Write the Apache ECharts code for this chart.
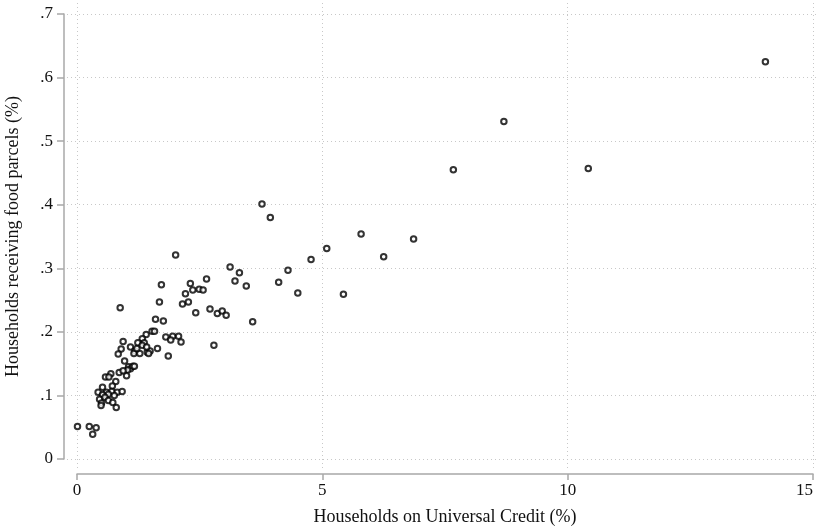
<!DOCTYPE html>
<html>
<head>
<meta charset="utf-8">
<script src="https://cdn.jsdelivr.net/npm/echarts@6/dist/echarts.min.js"></script>
<style>
html,body{margin:0;padding:0;background:#fff;}
#chart{width:818px;height:529px;}
</style>
</head>
<body>
<div id="chart"></div>
<script>
// Households on Universal Credit (%)
const ucShare = [
  14.03, 8.70, 10.42, 7.67, 3.77, 3.94, 5.79, 6.86, 5.09, 6.25,
  4.77, 4.30, 4.11, 4.50, 5.43, 3.58, 2.01, 3.12, 3.31, 3.22,
  3.45, 2.64, 1.72, 2.31, 2.36, 2.49, 2.57, 2.21, 1.68, 2.15,
  2.27, 2.42, 2.71, 2.86, 2.96, 3.04, 2.79, 0.88, 1.60, 1.76,
  1.41, 1.53, 1.58, 1.81, 1.95, 2.07, 1.91, 2.12, 1.86,
  0.94, 1.33, 1.37, 1.24, 0.90, 0.84, 1.09, 1.18, 1.16, 1.28,
  1.22, 1.43, 1.49, 1.46, 1.64, 1.33, 1.42, 0.97, 1.05, 1.09,
  1.14, 1.03, 1.17, 0.86, 0.69, 1.01, 0.58, 0.65, 0.94, 0.79,
  0.52, 0.72, 0.43, 0.60, 0.71, 0.82, 0.92, 0.52, 0.64, 0.76,
  0.46, 0.57, 0.64, 0.50, 0.73, 0.49, 0.80, 0.01, 0.25, 0.39, 0.32
];
// Households receiving food parcels (%)
const parcelShare = [
  0.625, 0.531, 0.457, 0.455, 0.401, 0.380, 0.354, 0.346, 0.331, 0.318,
  0.314, 0.297, 0.278, 0.261, 0.259, 0.216, 0.321, 0.302, 0.293, 0.280,
  0.272, 0.283, 0.274, 0.276, 0.266, 0.267, 0.266, 0.260, 0.247, 0.244,
  0.247, 0.230, 0.236, 0.229, 0.233, 0.226, 0.179, 0.238, 0.220, 0.217,
  0.196, 0.201, 0.201, 0.192, 0.193, 0.193, 0.187, 0.184, 0.162,
  0.185, 0.189, 0.183, 0.183, 0.173, 0.165, 0.176, 0.170, 0.166, 0.166,
  0.174, 0.168, 0.170, 0.166, 0.174, 0.179, 0.176, 0.154, 0.145, 0.142,
  0.146, 0.140, 0.146, 0.136, 0.134, 0.131, 0.129, 0.129, 0.139, 0.122,
  0.113, 0.115, 0.105, 0.105, 0.106, 0.105, 0.106, 0.101, 0.102, 0.100,
  0.094, 0.097, 0.092, 0.088, 0.089, 0.084, 0.081, 0.051, 0.051, 0.049, 0.039
];
const xTicks = [0, 5, 10, 15];
const yTicks = [0, 0.1, 0.2, 0.3, 0.4, 0.5, 0.6, 0.7];
const xTitle = 'Households on Universal Credit (%)';
const yTitle = 'Households receiving food parcels (%)';

const points = ucShare.map((x, i) => [x, parcelShare[i]]);

// layout
const W = 818, H = 529;
const g = {left: 77, right: 5, top: 14, bottom: 70};
const pad = {left: 10, right: 5, top: 11, bottom: 9};
const xMin = xTicks[0], xMax = xTicks[xTicks.length - 1];
const yMin = yTicks[0], yMax = yTicks[yTicks.length - 1];
const pxPerX = (W - g.left - g.right) / (xMax - xMin);
const pxPerY = (H - g.top - g.bottom) / (yMax - yMin);

const font = 'Liberation Serif';
const axisGrey = '#a8a8a8';
const gridStyle = {color: '#c8c8c8', width: 1, type: [1, 3]};

const fmtY = v => {
  const s = (+v).toFixed(1);
  return s === '0.0' ? '0' : s.replace(/^0/, '');
};

const chart = echarts.init(document.getElementById('chart'), null, {renderer: 'canvas'});
chart.setOption({
  animation: false,
  backgroundColor: '#fff',
  grid: [
    {left: g.left, right: g.right, top: g.top, bottom: g.bottom, containLabel: false, outerBoundsMode: 'none'},
    {left: g.left - pad.left, right: g.right - pad.right, top: g.top - pad.top, bottom: g.bottom - pad.bottom, containLabel: false, outerBoundsMode: 'none'}
  ],
  xAxis: [
    {
      type: 'value', gridIndex: 0, min: xMin, max: xMax, interval: 5,
      offset: 15,
      axisLine: {show: true, onZero: false, lineStyle: {color: axisGrey, width: 1.5}},
      axisTick: {show: true, inside: false, length: 6, lineStyle: {color: axisGrey, width: 1.5}},
      axisLabel: {color: '#111', fontFamily: font, fontSize: 17, margin: 8, alignMaxLabel: 'right'},
      splitLine: {show: false},
      name: xTitle, nameLocation: 'middle', nameGap: 34,
      nameTextStyle: {color: '#111', fontFamily: font, fontSize: 18}
    },
    {
      type: 'value', gridIndex: 1,
      min: xMin - pad.left / pxPerX, max: xMax + pad.right / pxPerX,
      axisLine: {show: false, onZero: false}, axisLabel: {show: false},
      axisTick: {show: false, customValues: xTicks},
      splitLine: {show: true, lineStyle: gridStyle}
    }
  ],
  yAxis: [
    {
      type: 'value', gridIndex: 0, min: yMin, max: yMax, interval: 0.1,
      offset: 13,
      axisLine: {show: true, onZero: false, lineStyle: {color: axisGrey, width: 1.5}},
      axisTick: {show: true, inside: false, length: 7, lineStyle: {color: axisGrey, width: 1.5}},
      axisLabel: {color: '#111', fontFamily: font, fontSize: 17, margin: 11, formatter: fmtY},
      splitLine: {show: false},
      name: yTitle, nameLocation: 'middle', nameGap: 42, nameRotate: 90,
      nameTextStyle: {color: '#111', fontFamily: font, fontSize: 18}
    },
    {
      type: 'value', gridIndex: 1,
      min: yMin - pad.bottom / pxPerY, max: yMax + pad.top / pxPerY,
      axisLine: {show: false, onZero: false}, axisLabel: {show: false},
      axisTick: {show: false, customValues: yTicks},
      splitLine: {show: true, lineStyle: gridStyle}
    }
  ],
  series: [{
    type: 'scatter',
    xAxisIndex: 0, yAxisIndex: 0,
    data: points,
    symbol: 'circle',
    symbolSize: 5.5,
    itemStyle: {color: '#fff', borderColor: '#000', borderWidth: 2},
    z: 5
  }]
});
</script>
</body>
</html>
